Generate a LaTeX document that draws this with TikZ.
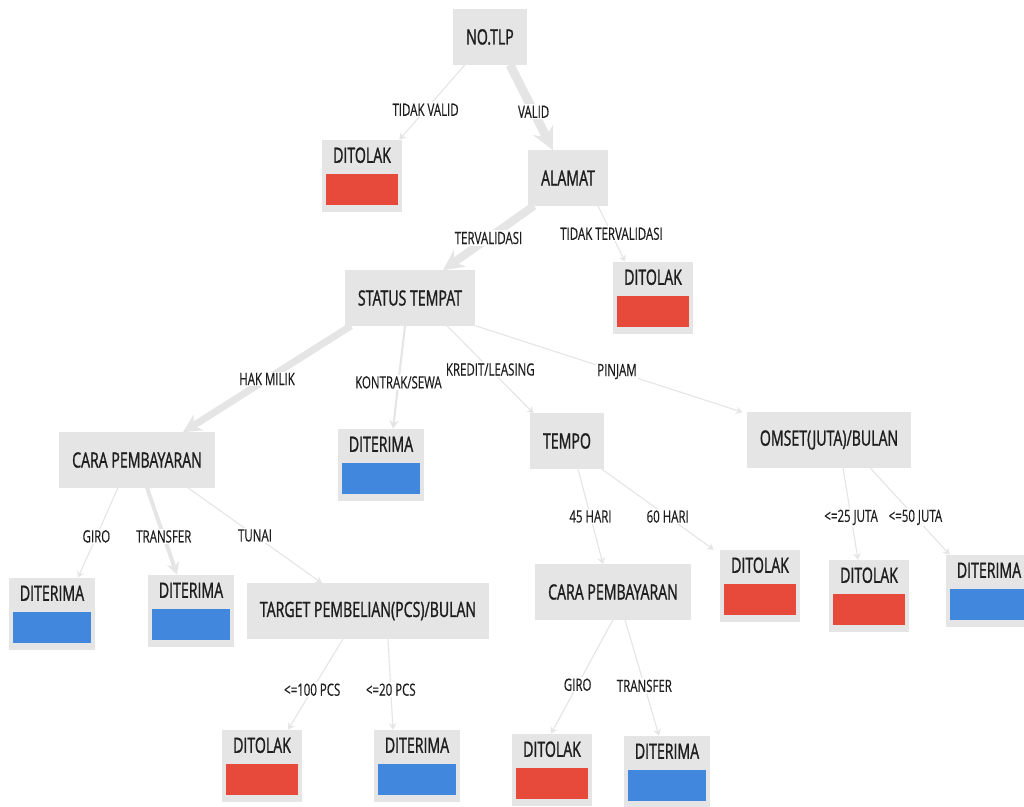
\documentclass[tikz,border=0pt]{standalone}
\usepackage{fontspec}
\setmainfont{Open Sans}
\newfontfamily\treefont[FakeStretch=0.67, FakeBold=1.2]{Open Sans}
\newfontfamily\condfont[FakeStretch=0.68, FakeBold=0.4]{Open Sans}
\usetikzlibrary{arrows.meta, calc}
\definecolor{boxgray}{RGB}{229,229,229}
\definecolor{edgegray}{RGB}{229,229,229}
\definecolor{barred}{RGB}{231,74,58}
\definecolor{barblue}{RGB}{66,135,222}
\definecolor{inkgray}{RGB}{30,30,30}
\tikzset{
    attr/.style={rectangle, fill=boxgray, inner xsep=0.33cm, inner ysep=0pt, minimum height=1.375cm, text=inkgray, font=\treefont\fontsize{15}{17}\selectfont},
    leaf/.style={rectangle, fill=boxgray, inner sep=0pt, minimum width=2cm, text height=0.57cm, text depth=1.23cm, text=inkgray, font=\treefont\fontsize{15}{17}\selectfont,
        path picture={\fill[#1] ($(path picture bounding box.south west)+(0.1cm,0.175cm)$) rectangle ($(path picture bounding box.south east)+(-0.1cm,0.95cm)$);}},
    ditolak/.style={leaf=barred},
    diterima/.style={leaf=barblue, minimum width=2.15cm},
    branch/.style={draw=edgegray, line width=#1, -{Stealth[length=3pt 2, width=4pt 1.8]}},
    branch/.default=0.8pt,
    cond/.style={fill=white, inner sep=1pt, text=inkgray, font=\condfont\fontsize{12}{13}\selectfont}
}
\begin{document}
\begin{tikzpicture}[x=0.025cm, y=-0.025cm]
        \useasboundingbox (0,0) rectangle (1024,807);
        % Attributes
        \node (tlp) [attr] at (490,37) {NO.TLP};
        \node (alamat) [attr] at (568,178) {ALAMAT};
        \node (status) [attr] at (410,298) {STATUS TEMPAT};
        \node (bayar1) [attr] at (137,460) {CARA PEMBAYARAN};
        \node (tempo) [attr] at (567,441) {TEMPO};
        \node (omset) [attr] at (829,440) {OMSET(JUTA)/BULAN};
        \node (target) [attr] at (368,611) {TARGET PEMBELIAN(PCS)/BULAN};
        \node (bayar2) [attr] at (613,592) {CARA PEMBAYARAN};

        % Leaves
        \node (tolak1) [ditolak] at (362,176) {DITOLAK};
        \node (tolak2) [ditolak] at (653,298) {DITOLAK};
        \node (terima1) [diterima] at (381,465) {DITERIMA};
        \node (terima2) [diterima] at (52,614) {DITERIMA};
        \node (terima3) [diterima] at (191,611) {DITERIMA};
        \node (tolak3) [ditolak] at (760,586) {DITOLAK};
        \node (tolak4) [ditolak] at (869,596) {DITOLAK};
        \node (terima4) [diterima] at (989,591) {DITERIMA};
        \node (tolak5) [ditolak] at (262,766) {DITOLAK};
        \node (terima5) [diterima] at (417,766) {DITERIMA};
        \node (tolak6) [ditolak] at (552,770) {DITOLAK};
        \node (terima6) [diterima] at (667,772) {DITERIMA};

        % Branches
        \draw[branch] ($(tlp.south)+(-25,0)$) -- node[cond, pos=0.6] {TIDAK VALID} ($(tolak1.north east)+(-3,0)$);
        \draw[branch=6.4pt] ($(tlp.south)+(20,0)$) -- node[cond, pos=0.55] {VALID} ($(alamat.north)+(-15,0)$);
        \draw[branch=5.8pt] ($(alamat.south)+(-34,0)$) -- node[cond] {TERVALIDASI} ($(status.north)+(33,0)$);
        \draw[branch] ($(alamat.south)+(30,0)$) -- node[cond] {TIDAK TERVALIDASI} ($(tolak2.north)+(-28,0)$);
        \draw[branch=5pt] ($(status.south)+(-59,0)$) -- node[cond] {HAK MILIK} ($(bayar1.north)+(46,0)$);
        \draw[branch=1.5pt] ($(status.south)+(-5,0)$) -- node[cond, pos=0.55] {KONTRAK/SEWA} ($(terima1.north)+(12,0)$);
        \draw[branch] ($(status.south)+(37,0)$) -- node[cond] {KREDIT/LEASING} ($(tempo.north west)+(4,0)$);
        \draw[branch] (status.south east) -- node[cond, pos=0.53] {PINJAM} ($(omset.north west)+(-4,0)$);
        \draw[branch] ($(bayar1.south)+(-19,0)$) -- node[cond, pos=0.54] {GIRO} ($(terima2.north)+(26,0)$);
        \draw[branch=2.8pt] ($(bayar1.south)+(10,0)$) -- node[cond, pos=0.56] {TRANSFER} ($(terima3.north)+(-14,0)$);
        \draw[branch] ($(bayar1.south)+(51,0)$) -- node[cond] {TUNAI} ($(target.north)+(-46,0)$);
        \draw[branch] ($(tempo.south)+(11,0)$) -- node[cond] {45 HARI} ($(bayar2.north)+(-10,0)$);
        \draw[branch] ($(tempo.south east)+(-3,0)$) -- node[cond, pos=0.59] {60 HARI} ($(tolak3.north west)+(-6,0)$);
        \draw[branch] ($(omset.south)+(14,0)$) -- node[cond, pos=0.54] {<=25 JUTA} ($(tolak4.north)+(-11,0)$);
        \draw[branch] ($(omset.south)+(41,0)$) -- node[cond, pos=0.57] {<=50 JUTA} ($(terima4.north west)+(4,0)$);
        \draw[branch] ($(target.south)+(-25,0)$) -- node[cond, pos=0.56] {<=100 PCS} ($(tolak5.north)+(26,0)$);
        \draw[branch] ($(target.south)+(20,0)$) -- node[cond, pos=0.56] {<=20 PCS} ($(terima5.north)+(-24,0)$);
        \draw[branch] (bayar2.south) -- node[cond, pos=0.57] {GIRO} ($(tolak6.north)+(-1,0)$);
        \draw[branch] ($(bayar2.south)+(12,0)$) -- node[cond, pos=0.57] {TRANSFER} ($(terima6.north)+(-8,0)$);
    \end{tikzpicture}
\end{document}
